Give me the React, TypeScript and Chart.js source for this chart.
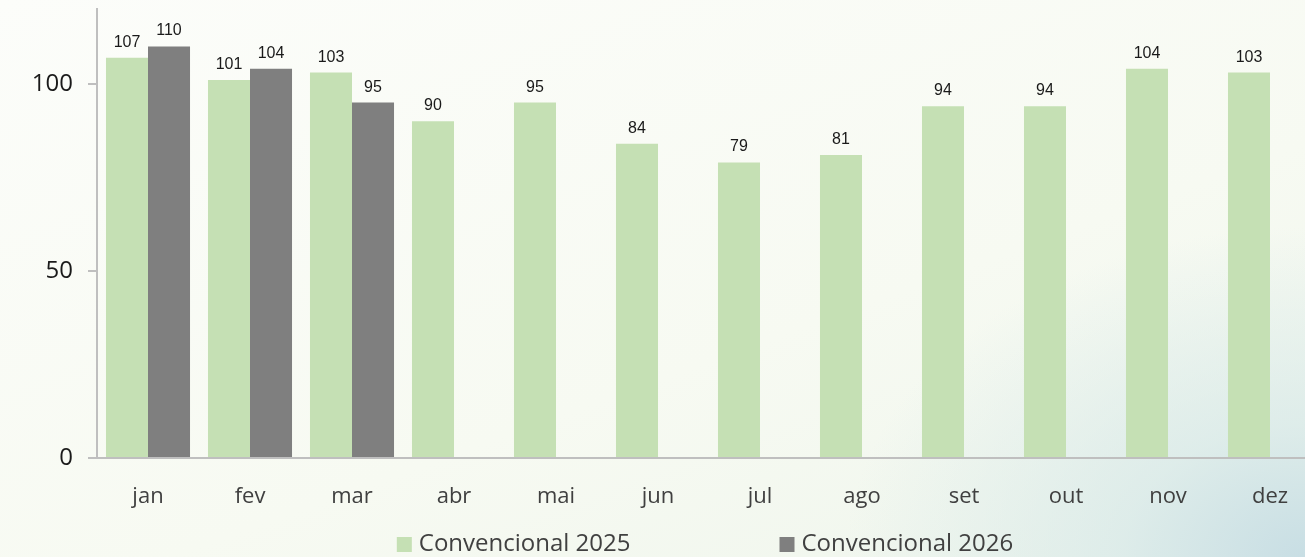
import React, { useEffect, useRef } from "react";
import { Chart, registerables } from "chart.js";

Chart.register(...registerables);

const categories = ["jan", "fev", "mar", "abr", "mai", "jun", "jul", "ago", "set", "out", "nov", "dez"];
const conv2025 = [107, 101, 103, 90, 95, 84, 79, 81, 94, 94, 104, 103];
const conv2026 = [110, 104, 95, null, null, null, null, null, null, null, null, null];
const yTicks = [0, 50, 100];
const seriesNames = ["Convencional 2025", "Convencional 2026"];
const seriesColors = ["#c5e0b4", "#7f7f7f"];

const labelsPlugin = {
  id: "barValues",
  afterDatasetsDraw(chart: any) {
    const ctx = chart.ctx;
    ctx.save();
    ctx.font = "16px 'Liberation Sans'";
    ctx.fillStyle = "#1a1a1a";
    ctx.textAlign = "center";
    ctx.textBaseline = "alphabetic";
    chart.data.datasets.forEach((ds: any, di: number) => {
      const meta = chart.getDatasetMeta(di);
      meta.data.forEach((el: any, i: number) => {
        const v = ds.data[i];
        if (v === null || v === undefined) return;
        ctx.fillText(String(v), el.x, el.y - 11);
      });
    });
    ctx.restore();
  },
};

const legendPlugin = {
  id: "customLegend",
  afterDraw(chart: any) {
    const ctx = chart.ctx;
    const area = chart.chartArea;
    ctx.save();
    ctx.font = "24px 'Open Sans'";
    ctx.textBaseline = "middle";
    const box = 15;
    const gapText = 7;
    const gapItem = 149;
    const widths = seriesNames.map((n) => ctx.measureText(n).width);
    const total = widths.reduce((a, w) => a + box + gapText + w, 0) + gapItem;
    let x = (area.left + area.right) / 2 - 4 - total / 2;
    const y = 544;
    seriesNames.forEach((n, i) => {
      ctx.fillStyle = seriesColors[i];
      ctx.fillRect(x, y - 7, box, box);
      ctx.fillStyle = "#404040";
      ctx.fillText(n, x + box + gapText, y);
      x += box + gapText + widths[i] + gapItem;
    });
    ctx.restore();
  },
};

export default function App() {
  const ref = useRef<HTMLCanvasElement | null>(null);
  useEffect(() => {
    if (!ref.current) return;
    const chart = new Chart(ref.current, {
      type: "bar",
      data: {
        labels: categories,
        datasets: [
          { label: seriesNames[0], data: conv2025, backgroundColor: seriesColors[0], categoryPercentage: 0.824, barPercentage: 1 },
          { label: seriesNames[1], data: conv2026 as any, backgroundColor: seriesColors[1], categoryPercentage: 0.824, barPercentage: 1 },
        ],
      },
      options: {
        animation: false,
        responsive: false,
        devicePixelRatio: 1,
        layout: { padding: { top: 9, right: 9, left: 0, bottom: 0 } },
        plugins: { legend: { display: false }, tooltip: { enabled: false } },
        scales: {
          x: {
            grid: { display: false },
            border: { display: true, color: "#bfbfbf", width: 2 },
            ticks: { color: "#404040", font: { family: "Open Sans", size: 22 }, padding: 18 },
            afterFit: (s: any) => { s.height = 99; s.paddingLeft = 0; s.paddingRight = 0; },
          },
          y: {
            min: 0,
            max: 120,
            afterBuildTicks: (s: any) => { s.ticks = yTicks.map((v) => ({ value: v })); },
            grid: { drawOnChartArea: false, drawTicks: true, tickLength: 9, color: "#bfbfbf", lineWidth: 2 },
            border: { display: true, color: "#bfbfbf", width: 2 },
            ticks: { color: "#1a1a1a", font: { family: "Open Sans", size: 24 }, padding: 15 },
            afterFit: (s: any) => { s.width = 97; s.paddingTop = 0; s.paddingBottom = 0; },
          },
        },
      },
      plugins: [labelsPlugin, legendPlugin],
    });
    return () => chart.destroy();
  }, []);
  return (
    <div
      style={{
        position: "fixed",
        left: 0,
        top: 0,
        width: 1305,
        height: 557,
        overflow: "hidden",
        background:
          "radial-gradient(ellipse 460px 330px at 100% 100%, rgba(200,222,228,1) 0%, rgba(214,232,232,0.7) 40%, rgba(240,246,238,0) 100%), linear-gradient(160deg, #fcfdfa 0%, #f7faf2 60%, #eef5ec 100%)",
      }}
    >
      <canvas ref={ref} width={1330} height={557} style={{ display: "block" }} />
    </div>
  );
}
